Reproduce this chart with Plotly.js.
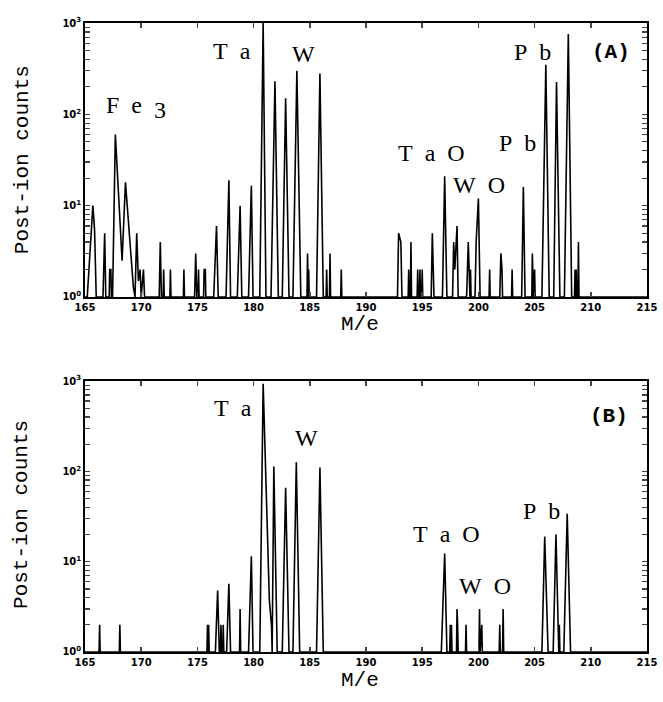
<!DOCTYPE html>
<html>
<head>
<meta charset="utf-8">
<script src="https://cdn.plot.ly/plotly-3.0.1.min.js"></script>
<style>html,body{margin:0;padding:0;background:#fff;}#chart{width:663px;height:702px;}</style>
</head>
<body>
<div id="chart"></div>
<script>
// Panel (A): mass-to-charge and post-ion counts (zero counts drawn at the log floor of 1)
var massA = [165.0,165.2,165.7,165.85,166.0,166.6,166.75,166.85,167.15,167.2,167.3,167.35,167.45,167.7,168.3,168.6,169.0,169.3,169.45,169.6,169.75,169.9,170.0,170.2,170.3,
  171.6,171.7,171.8,171.95,172.0,172.05,172.55,172.6,172.65,173.75,173.8,173.85,174.75,174.85,174.95,175.05,175.1,175.15,175.55,175.6,175.7,175.75,
  176.45,176.7,176.85,177.55,177.8,177.95,178.55,178.8,178.95,179.55,179.8,179.95,180.55,180.85,181.1,181.55,181.9,182.2,182.55,182.85,183.15,183.5,183.85,184.2,
  184.75,184.8,184.85,184.9,184.95,185.6,185.9,186.2,186.45,186.5,186.55,186.75,186.8,186.85,187.75,187.8,187.85,
  192.8,192.9,193.1,193.2,193.75,193.8,193.85,193.95,194.0,194.05,194.55,194.6,194.65,194.75,194.8,194.85,194.95,195.0,195.05,195.8,195.9,196.0,196.05,
  196.8,197.0,197.15,197.2,197.7,197.8,197.9,198.1,198.2,198.95,199.1,199.2,199.25,199.3,199.35,199.7,199.8,200.0,200.15,200.95,201.0,201.05,
  201.9,202.0,202.1,202.15,202.95,203.0,203.05,203.85,204.0,204.15,204.75,204.8,204.9,205.0,205.05,205.65,206.0,206.3,206.7,206.95,207.25,207.65,208.0,208.3,
  208.55,208.6,208.65,208.7,208.75,208.85,208.9,208.95,215.0];
var countsA = [1,1,10,5.5,1,1,5,1,1,2,2,1,1,60,2.5,18,4,1.3,1,5,1.5,2,1,2,1,
  1,4,1,1,2,1,1,2,1,1,2,1,1,3,1,1,2,1,1,2,2,1,
  1,6,1,1,19,1,1,10,1,1,16.5,1,1,1000,1,1,230,1,1,150,1,1,300,1,
  1,3,1,2,1,1,280,1,1,2,1,1,3,1,1,2,1,
  1,5,4,1,1,2,1,1,4,1,1,2,1,1,2,1,1,2,1,1,5,2,1,
  1,21,2,1,1,4,2,6,1,1,4,1,1,2,1,1,4,12,1,1,2,1,
  1,3,2,1,1,2,1,1,16,1,1,3,1,2,1,1,348,1,1,226,1,1,760,1,
  1,2,1,2,1,1,4,1,1];

// Panel (B)
var massB = [165.0,166.25,166.3,166.35,168.05,168.1,168.15,175.85,175.9,175.95,176.0,176.05,176.6,176.8,176.95,177.05,177.1,177.15,177.25,177.3,177.35,
  177.6,177.8,177.95,178.75,178.8,178.85,179.55,179.8,179.95,180.55,180.85,181.4,181.6,181.65,181.8,182.1,182.55,182.85,183.15,183.5,183.8,184.1,185.6,185.9,186.2,
  196.7,196.9,197.0,197.2,197.45,197.5,197.55,197.6,197.65,198.05,198.1,198.15,198.2,198.85,198.9,198.95,200.05,200.1,200.15,200.3,200.35,
  201.85,201.9,201.95,202.15,202.2,202.25,205.65,205.9,206.2,206.65,206.9,207.1,207.15,207.2,207.25,207.6,207.9,208.2,215.0];
var countsB = [1,1,2,1,1,2,1,1,2,1,2,1,1,4.8,1,1,2,1,1,2,1,
  1,5.7,1,1,3,1,1,11.5,1,1,930,3.8,1.9,1,113,1,1,66,1,1,126,1,1,110,1,
  1,8,12.3,1,1,2,1,2,1,1,3,2,1,1,2,1,1,3,1,2,1,
  1,2,1,1,3,1,1,19,1,1,20,1,1,2,1,1,34,1,1];

// y ticks: every integer step of each decade, labelled only at the decades
var yTickVals = [1,2,3,4,5,6,7,8,9,10,20,30,40,50,60,70,80,90,100,200,300,400,500,600,700,800,900,1000];
var yTickText = ['10<sup>0</sup>','','','','','','','','','10<sup>1</sup>','','','','','','','','','10<sup>2</sup>','','','','','','','','','10<sup>3</sup>'];
var xTickVals = [165,170,175,180,185,190,195,200,205,210,215];

var NB = '\u00a0';
var peakLabels = [
  {text:'F'+NB+NB+'e'+NB+NB+'<sub><span style="font-size:24px">3</span></sub>', x:169.5, y:2.08, ref:'1'},
  {text:'T'+NB+NB+'a', x:178.1, y:2.69, ref:'1'},
  {text:'W', x:184.4, y:2.66, ref:'1'},
  {text:'T'+NB+NB+'a'+NB+NB+'O', x:195.8, y:1.58, ref:'1'},
  {text:'W'+NB+NB+'O', x:200.05, y:1.23, ref:'1'},
  {text:'P'+NB+NB+'b', x:203.5, y:1.69, ref:'1'},
  {text:'P'+NB+NB+'b', x:204.85, y:2.68, ref:'1'},
  {text:'T'+NB+NB+'a', x:178.2, y:2.70, ref:'2'},
  {text:'W', x:184.75, y:2.37, ref:'2'},
  {text:'T'+NB+NB+'a'+NB+NB+'O', x:197.2, y:1.31, ref:'2'},
  {text:'W'+NB+NB+'O', x:200.6, y:0.73, ref:'2'},
  {text:'P'+NB+NB+'b', x:205.6, y:1.56, ref:'2'}
];
var panelLabels = [
  {text:'(A)', x:211.8, y:2.68, ref:'1'},
  {text:'(B)', x:211.6, y:2.61, ref:'2'}
];

var tickFont = {family:'DejaVu Sans, Arial, sans-serif', size:10, color:'#000', weight:'bold'};
var titleFont = {family:'Liberation Mono, DejaVu Sans Mono, monospace', size:21, color:'#000'};

function xax(anchor){
  return {range:[165,215], tickmode:'array', tickvals:xTickVals, ticks:'inside', ticklen:5, tickwidth:1.5,
    showline:true, linewidth:1.8, linecolor:'#000', mirror:'allticks', showgrid:false, zeroline:false,
    tickfont:tickFont, anchor:anchor};
}
function yax(domain, anchor){
  return {type:'log', range:[0,3], domain:domain, anchor:anchor, tickmode:'array', tickvals:yTickVals, ticktext:yTickText,
    ticks:'inside', ticklen:5, tickwidth:1.3,
    showline:true, linewidth:1.8, linecolor:'#000', mirror:'allticks', showgrid:false, zeroline:false,
    tickfont:tickFont};
}

var traces = [
  {x:massA, y:countsA, type:'scatter', mode:'lines', line:{color:'#000', width:1.6}, xaxis:'x', yaxis:'y', hoverinfo:'x+y'},
  {x:massB, y:countsB, type:'scatter', mode:'lines', line:{color:'#000', width:1.6}, xaxis:'x2', yaxis:'y2', hoverinfo:'x+y'}
];

var annotations = peakLabels.map(function(p){
  return {text:p.text, x:p.x, y:p.y, xref:p.ref==='1'?'x':'x2', yref:p.ref==='1'?'y':'y2',
    xanchor:'center', yanchor:'middle',
    showarrow:false, font:{family:'Liberation Serif, Times New Roman, serif', size:24, color:'#000'}};
});
panelLabels.forEach(function(p){
  annotations.push({text:p.text, x:p.x, y:p.y, xref:p.ref==='1'?'x':'x2', yref:p.ref==='1'?'y':'y2', showarrow:false,
    xanchor:'center', yanchor:'middle',
    font:{family:'Liberation Mono, DejaVu Sans Mono, monospace', size:21, color:'#000', weight:'bold'}});
});
// axis titles
[['Post-ion counts', -0.112, 0.782, -90], ['Post-ion counts', -0.112, 0.218, -90],
 ['M/e', 0.489, 0.52, 0], ['M/e', 0.489, -0.045, 0]].forEach(function(t){
  annotations.push({text:t[0], x:t[1], y:t[2], xref:'paper', yref:'paper', textangle:t[3], showarrow:false,
    xanchor:'center', yanchor:'middle', font:titleFont});
});

var layout = {
  width:663, height:702,
  margin:{l:85, r:16, t:23, b:50},
  paper_bgcolor:'#fff', plot_bgcolor:'#fff',
  showlegend:false,
  xaxis:xax('y'),
  yaxis:yax([0.5644,1],'x'),
  xaxis2:xax('y2'),
  yaxis2:yax([0,0.4308],'x2'),
  annotations:annotations
};

Plotly.newPlot('chart', traces, layout, {displayModeBar:false, staticPlot:true});
</script>
</body>
</html>
